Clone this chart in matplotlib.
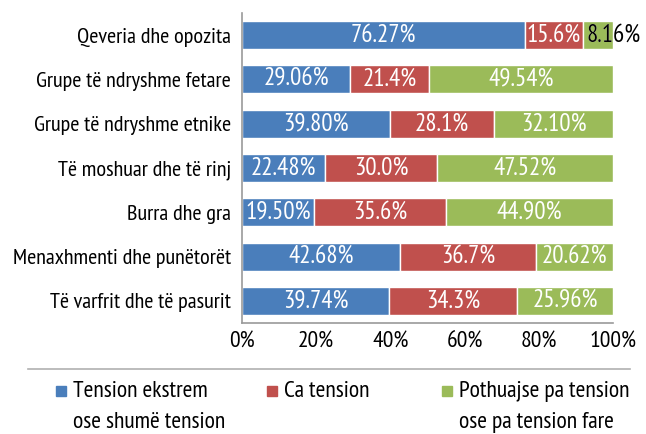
import numpy as np
import matplotlib.pyplot as plt
import matplotlib.patches as patches
from matplotlib.lines import Line2D

plt.rcParams['font.family'] = ['Myriad Pro', 'PT Sans Narrow', 'Roboto Condensed',
                               'Fira Sans Condensed', 'Open Sans Condensed',
                               'Liberation Sans Narrow', 'DejaVu Sans']

categories = ['Qeveria dhe opozita', 'Grupe të ndryshme fetare', 'Grupe të ndryshme etnike',
              'Të moshuar dhe të rinj', 'Burra dhe gra', 'Menaxhmenti dhe punëtorët',
              'Të varfrit dhe të pasurit']
extreme = [76.27, 29.06, 39.80, 22.48, 19.50, 42.68, 39.74]
some = [15.6, 21.4, 28.1, 30.0, 35.6, 36.7, 34.3]
none = [8.16, 49.54, 32.10, 47.52, 44.90, 20.62, 25.96]
series_names = ['Tension ekstrem\nose shumë tension', 'Ca tension',
                'Pothuajse pa tension\nose pa tension fare']
colors = ['#4a7ebb', '#c0504d', '#9bbb59']
ticks = [0, 20, 40, 60, 80, 100]

W, H = 646, 434
fig = plt.figure(figsize=(W / 100, H / 100), dpi=100)
ax = fig.add_axes([242 / W, 1 - 323 / H, 371 / W, 310 / H])

y = np.arange(len(categories))
left = np.zeros(len(categories))
for vals, col in zip([extreme, some, none], colors):
    vals = np.array(vals)
    bars = ax.barh(y, vals, left=left, height=0.63, color=col, edgecolor='white', linewidth=1)
    for b, v in zip(bars, vals):
        # labels keep the source formatting: 2 decimals for blue/green, 1 for red
        txt = f'{v:.1f}%' if col == colors[1] else f'{v:.2f}%'
        cx = b.get_x() + b.get_width() / 2
        cy = b.get_y() + b.get_height() / 2
        if b.get_width() < 10:
            # label spills past the bar: white on the bar, black outside
            t1 = ax.text(b.get_x() + 1.0, cy, txt, color='white', ha='left', va='center', fontsize=18)
            t1.set_clip_path(b)
            outside = patches.Rectangle((100, -1), 20, 10, transform=ax.transData)
            t2 = ax.text(b.get_x() + 1.0, cy, txt, color='black', ha='left', va='center', fontsize=18)
            t2.set_clip_path(outside)
        else:
            ax.text(cx, cy, txt, color='white', ha='center', va='center', fontsize=18)
    left += vals

ax.set_xlim(0, 100)
ax.set_ylim(6.5, -0.5)
ax.set_yticks(y)
ax.set_yticklabels(categories, fontsize=16)
ax.set_xticks(ticks)
ax.set_xticklabels([f'{t}%' for t in ticks], fontsize=17)
ax.tick_params(axis='y', length=0, pad=8)
ax.tick_params(axis='x', length=0, pad=6)
for s in ['top', 'right']:
    ax.spines[s].set_visible(False)
for s in ['left', 'bottom']:
    ax.spines[s].set_color('#9a9a9a')
    ax.spines[s].set_linewidth(1.2)

# separator line above legend
fig.add_artist(Line2D([28 / W, 630 / W], [1 - 369 / H] * 2, color='#b0b0b0', lw=1.2))

# legend, drawn by hand: square + one or two text lines
sq_x = [56, 267, 442]
for sx, name, col in zip(sq_x, series_names, colors):
    fig.add_artist(patches.Rectangle((sx / W, 1 - 396 / H), 10 / W, 10 / H,
                                     color=col, transform=fig.transFigure))
    for i, line in enumerate(name.split('\n')):
        fig.text((sx + 17) / W, 1 - (397 + 31 * i) / H, line, ha='left', va='baseline',
                 fontsize=17)

fig.savefig('out.png', dpi=100)
